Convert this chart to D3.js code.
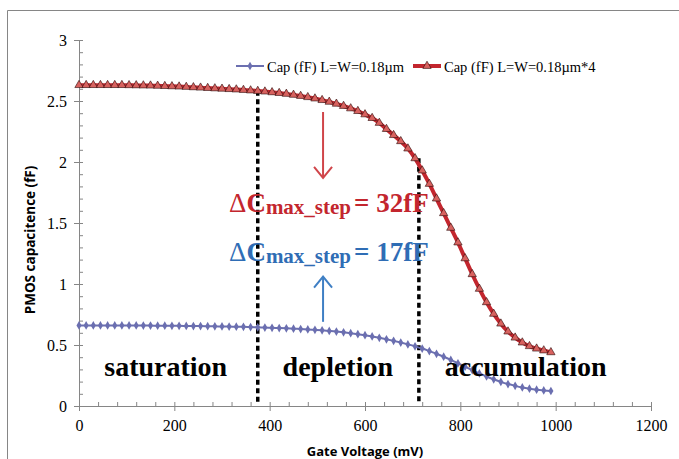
<!DOCTYPE html>
<html>
<head>
<meta charset="utf-8">
<style>
  body { margin: 0; background: #fff; }
  svg { display: block; }
  .axis path, .axis line { stroke: #868686; stroke-width: 1; }
</style>
</head>
<body>
<div id="chart"></div>
<script src="https://cdn.jsdelivr.net/npm/d3@7"></script>
<script>
// gate voltage samples (mV)
var voltage = [0,15,30,45,60,75,90,105,120,135,150,165,180,195,210,225,240,255,270,285,
  300,315,330,345,360,375,390,405,420,435,450,465,480,495,510,525,540,555,570,585,
  600,615,630,645,660,675,690,705,720,735,750,765,780,795,810,825,840,855,870,885,
  900,915,930,945,960,975,990];

// Cap (fF) L=W=0.18um
var capSmall = [0.660,0.660,0.660,0.660,0.660,0.660,0.660,0.660,0.660,0.659,0.659,0.658,0.658,0.657,0.657,0.656,0.655,0.655,0.654,0.653,
  0.652,0.651,0.650,0.649,0.647,0.645,0.643,0.641,0.639,0.637,0.634,0.631,0.628,0.624,0.620,0.615,0.610,0.604,0.597,0.589,
  0.580,0.570,0.559,0.547,0.534,0.520,0.505,0.489,0.471,0.450,0.428,0.404,0.378,0.350,0.322,0.294,0.267,0.242,0.219,0.198,
  0.180,0.165,0.152,0.142,0.134,0.128,0.123];

// Cap (fF) L=W=0.18um*4
var capLarge = [2.630,2.630,2.630,2.630,2.630,2.630,2.630,2.629,2.628,2.627,2.626,2.624,2.622,2.620,2.618,2.615,2.612,2.609,2.606,2.603,
  2.600,2.597,2.594,2.590,2.586,2.582,2.577,2.571,2.565,2.558,2.550,2.541,2.531,2.520,2.507,2.493,2.477,2.459,2.439,2.417,
  2.390,2.360,2.320,2.270,2.220,2.170,2.110,2.030,1.930,1.820,1.700,1.580,1.460,1.340,1.210,1.080,0.960,0.850,0.755,0.675,
  0.610,0.560,0.520,0.490,0.470,0.455,0.440];

var xTicks = [0,200,400,600,800,1000,1200];
var yTicks = [0,0.5,1,1.5,2,2.5,3];
var seriesNames = ["Cap (fF) L=W=0.18\u00b5m", "Cap (fF) L=W=0.18\u00b5m*4"];

// region boundaries and labels
var dividerX = [375, 713];
var dividerTop = [2.585, 2.03];
var regionNames = ["saturation", "depletion", "accumulation"];
var regionX = [182, 543, 937];
var regionY = 0.245;

var W = 679, H = 459;
var svg = d3.select("#chart").append("svg")
  .attr("width", W)
  .attr("height", H);

// chart frame
svg.append("path")
  .attr("d", "M7.5," + H + "V10.5H" + W)
  .attr("fill", "none")
  .attr("stroke", "#868686");

var x = d3.scaleLinear().domain([0, 1200]).range([79, 651]),
    y = d3.scaleLinear().domain([0, 3]).range([406, 40]);

// minor ticks (inside)
svg.append("g")
  .attr("class", "axis")
  .attr("transform", "translate(0,406)")
  .call(d3.axisBottom(x).tickValues(d3.range(0, 1201, 40)).tickSizeInner(-4).tickSizeOuter(0).tickFormat(""));
svg.append("g")
  .attr("class", "axis")
  .attr("transform", "translate(79,0)")
  .call(d3.axisLeft(y).tickValues(d3.range(0, 31).map(function(d){ return d / 10; })).tickSizeInner(-4).tickSizeOuter(0).tickFormat(""));

// major ticks
var xAxis = svg.append("g")
  .attr("class", "axis")
  .attr("transform", "translate(0,406)")
  .call(d3.axisBottom(x).tickValues(xTicks).tickSizeInner(5).tickSizeOuter(0).tickPadding(9).tickFormat(d3.format("")));
var yAxis = svg.append("g")
  .attr("class", "axis")
  .attr("transform", "translate(79,0)")
  .call(d3.axisLeft(y).tickValues(yTicks).tickSizeInner(5).tickSizeOuter(0).tickPadding(7).tickFormat(d3.format("")));

svg.selectAll(".axis text")
  .attr("font-family", null)
  .style("font-family", "'Liberation Serif', 'DejaVu Serif', serif")
  .style("font-size", "16px")
  .style("fill", "#000");
svg.selectAll(".axis").attr("font-family", "Liberation Serif").attr("font-size", 16);

// axis titles
svg.append("text")
  .attr("x", 365).attr("y", 456)
  .attr("text-anchor", "middle")
  .style("font-family", "'Open Sans', sans-serif")
  .style("font-weight", 700)
  .style("font-size", "13px")
  .text("Gate Voltage (mV)");
svg.append("text")
  .attr("transform", "translate(35,240) rotate(-90)")
  .attr("text-anchor", "middle")
  .style("font-family", "'Open Sans', sans-serif")
  .style("font-weight", 700)
  .style("font-size", "13.5px")
  .text("PMOS capacitence (fF)");

// dashed region dividers
svg.selectAll(".divider")
  .data(dividerX)
  .enter().append("line")
  .attr("class", "divider")
  .attr("x1", function(d){ return x(d); })
  .attr("x2", function(d){ return x(d); })
  .attr("y1", function(d, i){ return y(dividerTop[i]); })
  .attr("y2", y(0) - 2)
  .attr("stroke", "#000")
  .attr("stroke-width", 3.5)
  .attr("stroke-dasharray", "5,3.5");

// series lines
var line = d3.line()
  .x(function(d){ return x(d[0]); })
  .y(function(d){ return y(d[1]); })
  .curve(d3.curveMonotoneX);

var small = voltage.map(function(v, i){ return [v, capSmall[i]]; });
var large = voltage.map(function(v, i){ return [v, capLarge[i]]; });

svg.append("path")
  .datum(small)
  .attr("d", line)
  .attr("fill", "none")
  .attr("stroke", "#6b6fb0")
  .attr("stroke-width", 2);

svg.selectAll(".dia")
  .data(small)
  .enter().append("path")
  .attr("class", "dia")
  .attr("d", d3.symbol().type(d3.symbolDiamond).size(22))
  .attr("transform", function(d){ return "translate(" + x(d[0]) + "," + y(d[1]) + ")"; })
  .attr("fill", "#6b6fb0");

svg.append("path")
  .datum(large)
  .attr("d", line)
  .attr("fill", "none")
  .attr("stroke", "#c3262e")
  .attr("stroke-width", 4);

svg.selectAll(".tri")
  .data(large)
  .enter().append("path")
  .attr("class", "tri")
  .attr("d", d3.symbol().type(d3.symbolTriangle).size(30))
  .attr("transform", function(d){ return "translate(" + x(d[0]) + "," + y(d[1]) + ")"; })
  .attr("fill", "#d8625f")
  .attr("stroke", "#2a0a0a")
  .attr("stroke-width", 0.6);

// region labels
svg.selectAll(".region")
  .data(regionNames)
  .enter().append("text")
  .attr("class", "region")
  .attr("x", function(d, i){ return x(regionX[i]); })
  .attr("y", y(regionY))
  .attr("text-anchor", "middle")
  .style("font-family", "'Liberation Serif', serif")
  .style("font-weight", "bold")
  .style("font-size", "28px")
  .text(function(d){ return d; });

// arrows
function arrow(xv, fromV, toV, color) {
  var x0 = x(xv), y0 = y(fromV), y1 = y(toV);
  var dir = y1 > y0 ? -1 : 1;
  svg.append("line")
    .attr("x1", x0).attr("x2", x0).attr("y1", y0).attr("y2", y1)
    .attr("stroke", color).attr("stroke-width", 2);
  svg.append("path")
    .attr("d", "M" + (x0 - 9) + "," + (y1 + dir * 11) + "L" + x0 + "," + y1 + "L" + (x0 + 9) + "," + (y1 + dir * 11))
    .attr("fill", "none").attr("stroke", color).attr("stroke-width", 2);
}
arrow(512, 2.41, 1.87, "#d0454a");
arrow(512, 0.69, 1.06, "#3f7fc4");

// delta C annotations
function deltaLabel(px, py, value, color) {
  var t = svg.append("text")
    .attr("x", px).attr("y", py)
    .attr("fill", color)
    .style("font-family", "'Liberation Serif', serif")
    .style("font-weight", "bold")
    .style("font-size", "27px");
  t.append("tspan").style("font-weight", "normal").text("\u0394");
  t.append("tspan").text("C");
  t.append("tspan").attr("dy", 2).style("font-size", "21px").text("max_step");
  t.append("tspan").attr("dy", -2).attr("dx", 3).text("= " + value);
}
deltaLabel(229, 212, "32fF", "#c3262e");
deltaLabel(229, 261, "17fF", "#2f6db5");

// legend
var legend = svg.append("g").attr("transform", "translate(236,66)");
var legendColors = ["#6b6fb0", "#c3262e"];
var legendX = [0, 177];
seriesNames.forEach(function(name, i){
  var g = legend.append("g").attr("transform", "translate(" + legendX[i] + ",0)");
  g.append("line").attr("x1", 0).attr("x2", 28).attr("y1", 0).attr("y2", 0)
    .attr("stroke", legendColors[i]).attr("stroke-width", i ? 4 : 2);
  if (i === 0) {
    g.append("path").attr("d", d3.symbol().type(d3.symbolDiamond).size(22))
      .attr("transform", "translate(14,0)").attr("fill", legendColors[0]);
  } else {
    g.append("path").attr("d", d3.symbol().type(d3.symbolTriangle).size(30))
      .attr("transform", "translate(14,0)").attr("fill", "#d8625f")
      .attr("stroke", "#2a0a0a").attr("stroke-width", 0.6);
  }
  g.append("text").attr("x", 31).attr("y", 6)
    .style("font-family", "'Liberation Serif', serif")
    .style("font-size", "14.5px")
    .text(name);
});
</script>
</body>
</html>
